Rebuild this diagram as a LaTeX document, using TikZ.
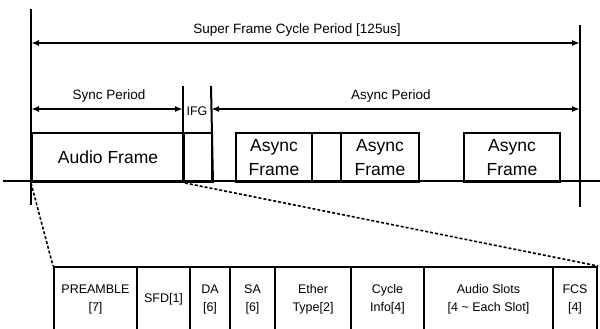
\documentclass[tikz,border=0pt]{standalone}
\usepackage{fontspec}
\setmainfont{Liberation Sans}
\usetikzlibrary{arrows.meta}
\begin{document}
\begin{tikzpicture}[x=1pt,y=-1pt,
  bound/.style={line width=2.6pt},
  framebox/.style={draw, line width=2pt, anchor=north west, inner sep=0pt, align=center,
    minimum height=49pt, font=\fontsize{17.5}{24}\selectfont},
  field/.style={draw, line width=2pt, anchor=north west, inner sep=0pt, align=center,
    minimum height=64pt, font=\fontsize{12.5}{18}\selectfont},
  dim/.style={line width=1.7pt, {Latex[length=8pt,width=6pt]}-{Latex[length=8pt,width=6pt]}},
  lbl/.style={font=\fontsize{13.5}{16}\selectfont, inner sep=0pt},
  zoomline/.style={line width=1.6pt, dash pattern=on 3pt off 2pt}]
\useasboundingbox (0,0) rectangle (600,329);

% top-level frames
\node[framebox, minimum width=152pt] (audio) at (31,132) {Audio Frame};
\node[framebox, minimum width=28pt] (ifg) at (183,132) {};
\node[framebox, minimum width=76pt] (af1) at (235,132) {Async\\Frame};
\node[framebox, minimum width=29pt] (gap) at (311,132) {};
\node[framebox, minimum width=78pt] (af2) at (340,132) {Async\\Frame};
\node[framebox, minimum width=96pt] (af3) at (463,132) {Async\\Frame};

% base line
\coordinate (bl) at (3,181);
\coordinate (br) at (600,181);
\draw[line width=2.5pt] (bl) -- (br);

% boundaries
\coordinate (Ltop) at (31,9);
\coordinate (Lbot) at (31,205);
\coordinate (Rtop) at (580,25);
\coordinate (Rbot) at (580,207);
\draw[bound] (Ltop) -- (Lbot);
\draw[bound] (Rtop) -- (Rbot);
\coordinate (i1) at (183,86);
\coordinate (i2) at (211,86);
\draw[line width=2pt] (i1) -- (ifg.south west);
\draw[line width=2pt] (i2) -- (ifg.south east);

% dimension arrows
\coordinate (sL) at (31,43);
\coordinate (sR) at (580,43);
\draw[dim] (sL) -- (sR);
\node[lbl] (superlbl) at (297,30) {Super Frame Cycle Period [125us]};

\coordinate (yL) at (31,109);
\coordinate (yR) at (183,109);
\coordinate (aL) at (211,109);
\coordinate (aR) at (580,109);
\draw[dim] (yL) -- (yR);
\draw[dim] (aL) -- (aR);
\node[lbl] (synclbl) at (109,96) {Sync Period};
\node[lbl] (asynclbl) at (391,96) {Async Period};
\node[lbl, font=\fontsize{12.5}{15}\selectfont] (ifglbl) at (197,111) {IFG};

% expanded frame fields
\node[field, minimum width=83pt] (pre) at (53,266) {PREAMBLE\\{[}7{]}};
\node[field, minimum width=53pt] (sfd) at (136,266) {SFD[1]};
\node[field, minimum width=40pt] (da) at (189,266) {DA\\{[}6{]}};
\node[field, minimum width=45pt] (sa) at (229,266) {SA\\{[}6{]}};
\node[field, minimum width=76pt] (eth) at (274,266) {Ether\\Type[2]};
\node[field, minimum width=73pt] (cyc) at (350,266) {Cycle\\Info[4]};
\node[field, minimum width=129pt] (slots) at (423,266) {Audio Slots\\{[}4 \textasciitilde{} Each Slot{]}};
\node[field, minimum width=44pt] (fcs) at (552,266) {FCS\\{[}4{]}};

% zoom lines
\draw[zoomline] (audio.south west) -- (pre.north west);
\draw[zoomline] (audio.south east) -- (fcs.north east);
\end{tikzpicture}
\end{document}
